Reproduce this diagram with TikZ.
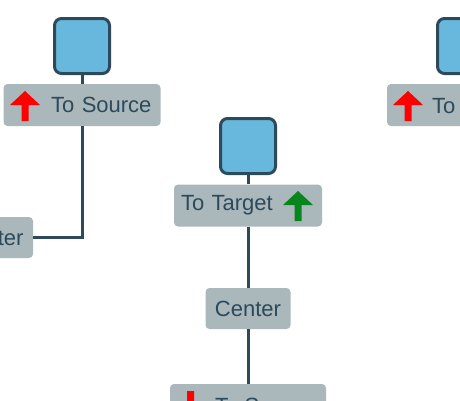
\documentclass[tikz,border=0pt]{standalone}
\usepackage{fontspec}
\setmainfont{Liberation Sans}
\definecolor{dark}{RGB}{44,74,90}
\definecolor{boxfill}{RGB}{104,184,222}
\definecolor{lblfill}{RGB}{170,183,187}
\definecolor{arrred}{RGB}{255,0,0}
\definecolor{arrgreen}{RGB}{8,134,28}
\tikzset{
  sqbox/.style={draw=dark, line width=3pt, fill=boxfill, rounded corners=7pt, minimum size=55pt, inner sep=0pt},
  lbl/.style={fill=lblfill, rounded corners=4pt, minimum height=42pt, inner ysep=0pt, text=dark,
    font=\fontsize{22}{26}\selectfont},
  conn/.style={draw=dark, line width=3pt},
  arrowpic/.pic={\fill (-15,-1) -- (0,-15) -- (15,-1) -- (3.5,-1) -- (3.5,15) -- (-3.5,15) -- (-3.5,-1) -- cycle;}
}
\begin{document}
\begin{tikzpicture}[x=1pt,y=-1pt]
\useasboundingbox (0,0) rectangle (460,400);
% left group
\node[sqbox] (boxA) at (82,46) {};
\node[lbl, minimum width=157pt, text width=139pt, inner xsep=9pt, align=right] (labA) at (82,105) {To Source};
\pic[arrred] at (25,106) {arrowpic};
\node[lbl, minimum height=41pt, minimum width=85pt, inner xsep=0pt] (cenL) at (-9.5,237.5) {Center};
% middle group
\node[sqbox] (boxB) at (248,146) {};
\node[lbl, minimum width=148pt, text width=134pt, inner xsep=7pt, align=left] (labB) at (248,205.5) {To Target};
\pic[arrgreen] at (298,206) {arrowpic};
\node[lbl, minimum height=41pt, minimum width=85pt, inner xsep=0pt] (cenM) at (248,308.5) {Center};
\node[lbl, minimum width=156pt, text width=111pt, inner xsep=0pt, align=left, text depth=0pt] (labD) at (248,405) {\hspace*{0pt}};
\node[anchor=base west, text=dark, font=\fontsize{22}{26}\selectfont, inner sep=0pt] (labDtxt) at (215,413) {To Source};
\pic[arrred, rotate=180] at (190.5,406) {arrowpic};
% right group
\node[sqbox] (boxC) at (465,46) {};
\node[lbl, minimum width=157pt, text width=105pt, inner xsep=0pt, align=left] (labC) at (465.5,105) {};
\node[anchor=base west, text=dark, font=\fontsize{22}{26}\selectfont, inner sep=0pt] (labCtxt) at (432,113) {To Source};
\pic[arrred] at (408,106) {arrowpic};
% connectors
\draw[conn] (boxA) -- (labA);
\draw[conn] (labA.south) |- (cenL.east);
\draw[conn] (boxB) -- (labB);
\draw[conn] (labB) -- (cenM);
\draw[conn] (cenM) -- (labD);
\draw[conn] (boxC) -- (labC);
\draw[conn] (labC.south) -- ++(0,120);
\end{tikzpicture}
\end{document}
